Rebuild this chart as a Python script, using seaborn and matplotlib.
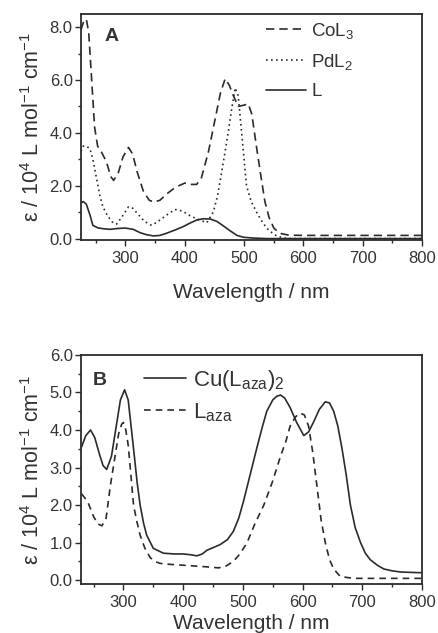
import numpy as np
import pandas as pd
import matplotlib
matplotlib.use("Agg")
import matplotlib.pyplot as plt
import seaborn as sns

# ---------------- data: panel A ----------------
col3_wl = [225, 230, 234, 238, 243, 248, 253, 260, 268, 275, 280, 288, 296, 305, 312, 320, 330, 340,
           348, 358, 370, 385, 400, 410, 420, 428, 440, 450, 460, 468, 475, 482, 490, 500, 507, 513,
           520, 528, 535, 542, 550, 560, 575, 600, 700, 800]
col3_eps = [7.9, 8.25, 8.3, 7.8, 6.0, 4.2, 3.5, 3.25, 2.9, 2.35, 2.2, 2.5, 3.1, 3.45, 3.2, 2.5, 1.8, 1.45,
            1.38, 1.45, 1.7, 1.95, 2.1, 2.05, 2.05, 2.3, 3.3, 4.4, 5.5, 6.05, 5.8, 5.4, 5.0, 5.05, 5.1, 4.7,
            3.6, 2.4, 1.4, 0.8, 0.4, 0.2, 0.13, 0.12, 0.12, 0.12]

pdl2_wl = [225, 229, 234, 240, 245, 251, 257, 262, 270, 279, 285, 295, 305, 312, 320, 332, 344, 355,
           370, 383, 395, 410, 420, 437, 448, 455, 462, 468, 473, 479, 485, 490, 495, 504, 512, 521,
           530, 538, 547, 555, 565, 580, 800]
pdl2_eps = [3.3, 3.5, 3.5, 3.4, 3.0, 2.3, 1.6, 1.2, 0.85, 0.6, 0.55, 0.85, 1.2, 1.15, 0.95, 0.65, 0.5, 0.65,
            0.9, 1.1, 1.05, 0.85, 0.75, 0.6, 1.0, 1.6, 2.5, 3.3, 4.0, 4.9, 5.7, 5.4, 4.2, 2.0, 1.4, 1.0,
            0.65, 0.4, 0.22, 0.1, 0.03, 0.0, 0.0]

l_wl = [225, 229, 234, 240, 245, 254, 264, 274, 286, 299, 313, 325, 335, 347, 358, 369, 383, 397, 410,
        420, 431, 443, 454, 465, 476, 488, 499, 515, 540, 800]
l_eps = [1.35, 1.4, 1.3, 0.9, 0.5, 0.4, 0.37, 0.35, 0.38, 0.4, 0.35, 0.22, 0.15, 0.1, 0.12, 0.2, 0.32, 0.45,
         0.6, 0.7, 0.75, 0.74, 0.65, 0.48, 0.3, 0.12, 0.05, 0.02, 0.0, 0.0]

# ---------------- data: panel B ----------------
cu_wl = [230, 237, 245, 252, 260, 266, 272, 280, 288, 295, 302, 308, 317, 323, 328, 334, 339, 350, 367,
         385, 400, 412, 423, 432, 440, 452, 462, 474, 484, 493, 501, 512, 523, 532, 540, 550, 557, 563,
         570, 579, 590, 602, 610, 618, 628, 638, 645, 652, 659, 666, 673, 680, 688, 697, 705, 713, 725,
         736, 750, 764, 780, 800]
cu_eps = [3.55, 3.85, 4.0, 3.8, 3.35, 3.05, 2.95, 3.3, 4.1, 4.8, 5.07, 4.8, 3.5, 2.6, 2.0, 1.5, 1.2, 0.85, 0.72,
          0.7, 0.7, 0.68, 0.65, 0.7, 0.8, 0.88, 0.95, 1.08, 1.3, 1.65, 2.1, 2.8, 3.5, 4.05, 4.5, 4.8, 4.9, 4.93,
          4.85, 4.6, 4.2, 3.85, 3.95, 4.2, 4.55, 4.75, 4.72, 4.5, 4.1, 3.5, 2.8, 2.0, 1.4, 1.0, 0.72, 0.55, 0.4,
          0.3, 0.25, 0.22, 0.21, 0.2]

laza_wl = [230, 240, 250, 257, 264, 271, 278, 285, 292, 297, 300, 304, 308, 312, 317, 322, 328, 336, 345,
           353, 361, 380, 400, 428, 445, 459, 470, 484, 495, 507, 520, 535, 549, 563, 572, 579, 588, 596,
           603, 610, 617, 624, 631, 638, 645, 652, 663, 685, 800]
laza_eps = [2.3, 2.1, 1.7, 1.5, 1.45, 1.65, 2.5, 3.2, 3.9, 4.15, 4.2, 4.0, 3.6, 2.9, 2.0, 1.6, 1.2, 0.85, 0.6,
            0.5, 0.45, 0.42, 0.4, 0.37, 0.35, 0.33, 0.36, 0.5, 0.7, 1.0, 1.5, 2.0, 2.6, 3.3, 3.7, 4.1, 4.35, 4.45,
            4.4, 4.1, 3.4, 2.5, 1.6, 1.0, 0.55, 0.3, 0.1, 0.05, 0.05]

# ---------------- style ----------------
sns.set_theme(style="ticks")
plt.rcParams['font.family'] = ['Liberation Sans', 'DejaVu Sans']
plt.rcParams['mathtext.fontset'] = 'custom'
plt.rcParams['mathtext.rm'] = 'Liberation Sans'
plt.rcParams['mathtext.it'] = 'Liberation Sans'
plt.rcParams['mathtext.default'] = 'regular'

INK = '#2b2b2b'
TXT = '#333333'

fig = plt.figure(figsize=(4.39, 6.33), dpi=100)
axA = fig.add_axes([0.1845, 0.621, 0.777, 0.357])
axB = fig.add_axes([0.1845, 0.0774, 0.777, 0.362])

def series(wl, eps, name):
    return pd.DataFrame({'wl': wl, 'eps': eps, 'name': name})

lw = 1.2
sns.lineplot(data=series(col3_wl, col3_eps, 'CoL3'), x='wl', y='eps', ax=axA, color=INK, lw=lw,
             linestyle=(0, (5, 3)), label='CoL$_3$', estimator=None, sort=False)
sns.lineplot(data=series(pdl2_wl, pdl2_eps, 'PdL2'), x='wl', y='eps', ax=axA, color=INK, lw=lw,
             linestyle=(0, (1, 2)), label='PdL$_2$', estimator=None, sort=False)
sns.lineplot(data=series(l_wl, l_eps, 'L'), x='wl', y='eps', ax=axA, color=INK, lw=lw,
             linestyle='-', label='L', estimator=None, sort=False)

sns.lineplot(data=series(cu_wl, cu_eps, 'Cu'), x='wl', y='eps', ax=axB, color=INK, lw=lw,
             linestyle='-', label='Cu(L$_{aza}$)$_2$', estimator=None, sort=False)
sns.lineplot(data=series(laza_wl, laza_eps, 'Laza'), x='wl', y='eps', ax=axB, color=INK, lw=lw,
             linestyle=(0, (4, 3)), label='L$_{aza}$', estimator=None, sort=False)

ylabel = 'ε / 10$^4$ L mol$^{-1}$ cm$^{-1}$'

for ax, ylim, yticks, yminor, xlim, xpad in [
        (axA, (-0.05, 8.5), [0, 2, 4, 6, 8], np.arange(0, 8.6, 1.0), (225, 800), 12),
        (axB, (-0.1, 6.0), [0, 1, 2, 3, 4, 5, 6], np.arange(0, 6.01, 0.5), (229, 800), 3)]:
    ax.set_xlim(*xlim)
    ax.set_ylim(*ylim)
    ax.set_xticks([300, 400, 500, 600, 700, 800])
    ax.set_xticks(np.arange(250, 801, 50), minor=True)
    ax.set_yticks(yticks)
    ax.set_yticklabels([f'{v:.1f}' for v in yticks])
    ax.set_yticks(yminor, minor=True)
    ax.tick_params(axis='both', which='major', direction='out', length=4, width=1.0,
                   labelsize=12, colors=INK, labelcolor=TXT, pad=2)
    ax.tick_params(axis='x', which='major', pad=4)
    ax.tick_params(axis='both', which='minor', direction='out', length=2.5, width=1.0, colors=INK)
    for s in ax.spines.values():
        s.set_visible(True)
        s.set_color(INK)
        s.set_linewidth(1.3)
    ax.set_xlabel('Wavelength / nm', fontsize=15, color=TXT, labelpad=xpad)
    ax.set_ylabel(ylabel, fontsize=15.5, color=TXT, labelpad=4)

legA = axA.legend(loc='upper left', bbox_to_anchor=(0.51, 1.02), frameon=False, fontsize=13.5,
                  handlelength=2.1, handletextpad=0.3, labelspacing=0.6, borderaxespad=0.2)
for t in legA.get_texts():
    t.set_color(TXT)
legB = axB.legend(loc='upper left', bbox_to_anchor=(0.145, 1.0), frameon=False, fontsize=16,
                  handlelength=1.9, handletextpad=0.3, labelspacing=0.35, borderaxespad=0.2)
for t in legB.get_texts():
    t.set_color(TXT)

axA.text(0.09, 0.90, 'A', transform=axA.transAxes, fontsize=14, fontweight='bold', color=TXT,
         ha='center', va='center')
axB.text(0.055, 0.89, 'B', transform=axB.transAxes, fontsize=14, fontweight='bold', color=TXT,
         ha='center', va='center')

fig.savefig('out.png', dpi=100)
